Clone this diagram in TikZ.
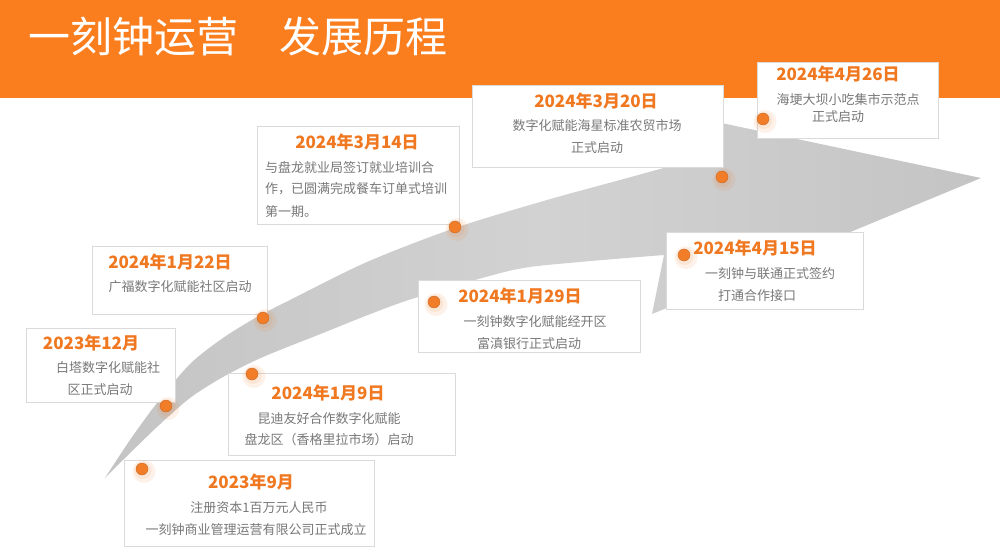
\documentclass[tikz,border=0pt]{standalone}
\usepackage{fontspec}
\setmainfont{Noto Sans CJK SC}
\definecolor{hdr}{RGB}{250,125,30}
\definecolor{dateor}{RGB}{240,120,32}
\definecolor{txtgray}{RGB}{120,120,120}
\definecolor{boxline}{RGB}{218,218,218}
\definecolor{dotor}{RGB}{242,125,40}
\definecolor{arrowA}{RGB}{196,196,196}
\definecolor{arrowB}{RGB}{210,210,210}
\tikzset{
  card/.style={draw=boxline, line width=0.9pt, fill=white, inner sep=0pt, anchor=north west},
  datetxt/.style={text=dateor, font=\fontsize{17}{17}\selectfont\bfseries, inner sep=0pt},
  bodytxt/.style={text=txtgray, font=\fontsize{13}{13}\selectfont, inner sep=0pt},
  halo/.style={circle, fill=dotor, opacity=0.10, minimum size=23pt, inner sep=0pt},
  haloin/.style={circle, fill=dotor, opacity=0.10, minimum size=17pt, inner sep=0pt},
  dotmark/.style={circle, fill=dotor, draw=dotor!80!black, line width=0.3pt, minimum size=12pt, inner sep=0pt},
}
\begin{document}
\begin{tikzpicture}[x=1pt, y=-1pt]
\useasboundingbox (0,0) rectangle (1000,556);
\fill[white] (0,0) rectangle (1000,556);
% header
\fill[hdr] (0,0) rectangle (1000,98);
\node[anchor=west, text=white, font=\fontsize{42}{42}\selectfont, inner sep=0pt] (title) at (28,37) {一刻钟运营\hspace{41pt}发展历程};
% arrow
\path[left color=arrowA, right color=arrowA, middle color=arrowB]
  plot[smooth, tension=0.5] coordinates {(105,478) (130,440) (157,403) (190,364) (223,338) (257,317) (290,300) (367,262) (455,228) (547,200) (620,180) (700,158)}
  -- (712,121) -- (981,178) -- (652,314) -- (664,255)
  -- plot[smooth, tension=0.5] coordinates {(664,255) (580,262) (513,270) (418,297) (373,313) (323,333) (263,357) (223,377) (190,398) (157,427) (123,460) (105,478)}
  -- cycle;
% cards
\node[card, minimum width=250pt, minimum height=86pt] (c1) at (124,460) {};
\node[datetxt] (d1) at (251,482) {2023年9月};
\node[bodytxt] (t1a) at (259,508) {注册资本1百万元人民币};
\node[bodytxt] (t1b) at (256,530) {一刻钟商业管理运营有限公司正式成立};

\node[card, minimum width=149pt, minimum height=74pt] (c2) at (26,328) {};
\node[datetxt] (d2) at (91,343) {2023年12月};
\node[bodytxt] (t2a) at (108,368) {白塔数字化赋能社};
\node[bodytxt] (t2b) at (100,390) {区正式启动};

\node[card, minimum width=227pt, minimum height=82pt] (c3) at (228,373) {};
\node[datetxt] (d3) at (328,393) {2024年1月9日};
\node[bodytxt] (t3a) at (329,419) {昆迪友好合作数字化赋能};
\node[bodytxt] (t3b) at (329,440) {盘龙区（香格里拉市场）启动};

\node[card, minimum width=175pt, minimum height=68pt] (c4) at (92,246) {};
\node[datetxt] (d4) at (170,262) {2024年1月22日};
\node[bodytxt] (t4a) at (180,287) {广福数字化赋能社区启动};

\node[card, minimum width=222pt, minimum height=72pt] (c5) at (418,280) {};
\node[datetxt] (d5) at (520,296) {2024年1月29日};
\node[bodytxt] (t5a) at (535,322) {一刻钟数字化赋能经开区};
\node[bodytxt] (t5b) at (529,344) {富滇银行正式启动};

\node[card, minimum width=202pt, minimum height=98pt] (c6) at (257,126) {};
\node[datetxt] (d6) at (357,142) {2024年3月14日};
\node[bodytxt, anchor=west] (t6a) at (265,168) {与盘龙就业局签订就业培训合};
\node[bodytxt, anchor=west] (t6b) at (265,189) {作，已圆满完成餐车订单式培训};
\node[bodytxt, anchor=west] (t6c) at (265,212) {第一期。};

\node[card, minimum width=251pt, minimum height=82pt] (c7) at (472,85) {};
\node[datetxt] (d7) at (596,101) {2024年3月20日};
\node[bodytxt] (t7a) at (597,126) {数字化赋能海星标准农贸市场};
\node[bodytxt] (t7b) at (597,148) {正式启动};

\node[card, minimum width=181pt, minimum height=76pt] (c8) at (757,62) {};
\node[datetxt] (d8) at (838,74) {2024年4月26日};
\node[bodytxt] (t8a) at (848,100) {海埂大坝小吃集市示范点};
\node[bodytxt] (t8b) at (838,117) {正式启动};

\node[card, minimum width=197pt, minimum height=77pt] (c9) at (666,232) {};
\node[datetxt] (d9) at (755,248) {2024年4月15日};
\node[bodytxt] (t9a) at (770,274) {一刻钟与联通正式签约};
\node[bodytxt] (t9b) at (757,296) {打通合作接口};
% dots
\foreach \n/\x/\y in {p1/142/469, p2/166/406, p3/252/374, p4/263/318, p5/434/302, p6/455/227, p7/722/177, p8/763/119, p9/684/255}{
  \node[halo] (h\n) at (\x+2,\y+2.5) {};
  \node[haloin] (g\n) at (\x+1,\y+1.5) {};
  \node[dotmark] (\n) at (\x,\y) {};
}
\end{tikzpicture}
\end{document}
